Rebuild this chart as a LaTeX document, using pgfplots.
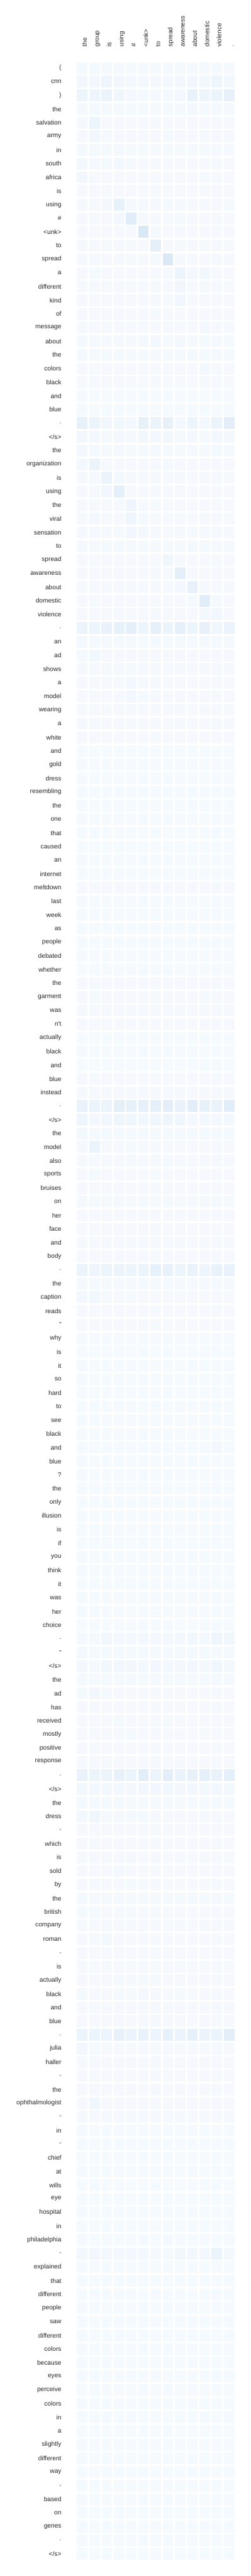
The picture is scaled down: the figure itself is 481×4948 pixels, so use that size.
\documentclass[border=0pt]{standalone}
\usepackage{pgfplots}
\pgfplotsset{compat=1.18}
\usepackage{pgfplotstable}
\usepackage{fontspec}
\setmainfont{Liberation Sans}
\pgfdeclareplotmark{cell}{\pgfpathrectangle{\pgfpoint{-10.095pt}{-11.465pt}}{\pgfpoint{20.19pt}{22.93pt}}\pgfusepathqfill}
\definecolor{lbl}{gray}{0.15}
\pgfplotstableread{
r c1 c2 c3 c4 c5 c6 c7 c8 c9 c10 c11 c12 c13
0 15 15 15 14 14 14 14 14 14 14 14 14 12
1 30 25 45 30 25 22 22 22 22 30 35 45 30
2 50 45 55 40 20 15 15 15 20 70 50 60 75
3 15 13 13 13 13 13 13 13 13 22 15 15 15
4 12 50 12 12 12 12 12 12 12 12 12 12 12
5 12 30 12 12 12 12 12 15 12 12 12 12 12
6 15 15 15 15 15 15 15 15 15 15 15 15 15
7 25 18 14 20 12 12 12 12 12 12 12 12 12
8 28 12 12 12 12 12 12 12 12 12 18 12 12
9 12 12 12 12 12 12 12 12 12 12 12 12 12
10 12 12 22 80 12 12 12 14 12 12 12 12 14
11 12 12 12 20 110 12 12 12 14 12 12 12 12
12 12 12 12 12 12 150 16 12 12 12 12 12 12
13 12 12 12 12 12 12 90 12 12 12 12 12 12
14 12 12 12 12 12 12 16 140 12 12 12 12 12
15 12 14 12 12 12 12 12 12 50 22 30 12 12
16 12 12 12 12 12 12 12 12 28 12 14 12 12
17 12 12 12 12 12 12 12 12 35 12 12 12 12
18 12 12 12 12 12 12 12 12 12 12 12 12 12
19 12 12 12 12 12 12 12 12 12 12 20 12 12
20 14 14 12 12 12 20 20 16 20 16 14 14 14
21 13 13 13 13 13 13 13 13 13 13 18 13 13
22 12 12 12 12 12 12 12 12 12 12 20 12 12
23 12 12 12 12 12 12 12 12 12 12 12 12 12
24 10 10 10 10 10 10 10 10 10 10 10 10 10
25 10 10 10 10 10 10 10 10 10 10 10 10 10
26 80 60 30 35 25 80 60 75 25 50 20 60 100
27 30 20 15 20 15 30 20 30 15 20 15 25 25
28 25 13 13 13 13 15 13 13 13 13 13 13 13
29 20 55 12 12 12 12 12 14 12 12 12 12 12
30 12 12 60 20 12 12 12 12 12 12 12 12 12
31 12 12 30 90 12 12 12 12 12 12 12 12 12
32 12 12 12 12 45 12 12 12 12 12 12 12 12
33 12 20 12 12 45 14 12 12 12 12 12 12 12
34 12 12 12 12 30 20 12 12 12 12 12 12 12
35 14 14 14 14 14 14 14 14 14 14 14 14 14
36 12 12 12 12 12 12 12 40 12 12 12 12 12
37 12 12 12 12 12 12 12 12 90 12 12 12 12
38 12 12 12 12 12 12 12 12 20 75 12 12 12
39 12 12 12 12 12 12 12 12 12 14 110 14 12
40 12 12 12 12 12 12 12 12 12 12 25 30 12
41 60 50 70 80 90 50 85 55 85 50 75 40 60
42 20 16 16 16 16 16 16 16 16 16 16 16 16
43 14 35 12 12 12 12 12 12 12 12 12 12 12
44 12 12 16 14 14 12 12 12 12 12 12 12 12
45 12 12 12 12 20 12 12 12 12 12 12 12 12
46 12 12 12 12 20 14 12 12 12 12 12 12 12
47 12 12 12 12 12 12 12 12 12 12 12 12 12
48 12 12 12 12 16 12 12 12 12 12 12 12 12
49 12 12 12 12 12 12 12 12 12 12 12 12 12
50 8 8 8 8 8 8 8 8 8 8 8 8 8
51 8 8 8 8 8 8 8 8 8 8 8 8 8
52 8 8 8 8 8 8 8 8 8 8 8 8 8
53 8 8 8 8 8 8 8 8 8 8 8 8 8
54 8 8 8 8 8 8 8 8 8 8 8 8 8
55 8 8 8 8 8 8 8 8 8 8 8 8 8
56 8 8 8 8 8 8 8 8 8 8 8 8 8
57 8 8 8 8 8 8 8 8 8 8 8 8 8
58 8 8 8 8 8 8 8 8 8 8 8 8 8
59 8 8 8 8 8 8 8 8 8 8 8 8 8
60 12 12 12 12 12 12 12 12 12 12 12 12 12
61 8 8 8 8 8 8 8 8 8 8 8 8 8
62 8 8 8 8 8 8 8 8 8 8 8 8 8
63 8 8 8 8 8 8 8 8 8 8 8 8 8
64 8 8 8 8 8 8 8 8 8 8 8 8 8
65 8 8 8 8 8 8 8 8 8 8 8 8 8
66 8 8 8 8 8 8 8 8 8 8 8 8 8
67 12 12 12 12 12 12 12 12 12 12 12 12 12
68 12 14 12 12 12 12 12 12 12 12 14 12 12
69 12 12 12 12 12 12 12 12 12 12 12 12 12
70 12 12 12 12 12 12 12 12 12 12 12 12 12
71 10 10 10 10 10 10 10 10 10 10 10 10 10
72 10 10 10 10 10 10 10 10 10 10 10 10 10
73 10 10 10 10 10 10 10 10 10 10 10 14 10
74 12 12 12 12 12 12 12 12 12 12 12 12 12
75 12 12 12 12 12 12 12 12 12 12 12 12 12
76 70 60 60 90 80 85 90 100 70 110 80 65 110
77 45 25 30 45 40 35 40 45 40 25 20 25 25
78 20 14 14 14 14 14 14 14 14 14 14 14 14
79 12 60 12 12 14 12 12 12 12 12 12 12 12
80 12 12 12 12 12 12 12 14 12 12 12 12 12
81 12 14 12 12 12 12 12 12 12 12 12 12 12
82 12 12 12 12 12 12 12 12 12 12 12 12 12
83 14 14 14 14 14 14 14 14 14 14 14 14 14
84 12 12 12 12 12 12 12 12 12 12 12 12 12
85 12 12 12 12 12 12 12 12 12 12 12 12 12
86 12 12 12 12 12 12 12 12 12 12 12 12 12
87 12 12 12 12 12 12 12 12 12 12 12 12 12
88 55 45 50 55 50 60 80 70 50 65 45 70 70
89 15 15 15 15 15 15 15 15 15 15 15 15 15
90 25 35 14 12 14 12 12 12 12 12 12 12 12
91 12 12 12 12 12 12 12 12 12 12 12 12 12
92 12 12 12 12 12 12 12 12 12 12 12 12 12
93 10 10 10 10 10 10 10 10 10 10 10 10 10
94 10 10 10 10 10 10 10 10 10 10 10 10 10
95 10 10 10 10 10 10 10 10 10 10 10 10 10
96 10 10 10 10 10 10 10 10 10 10 10 10 10
97 10 10 10 10 10 10 10 10 10 10 10 10 10
98 10 10 10 10 10 10 10 10 10 10 10 10 10
99 10 10 10 10 10 10 10 10 10 10 10 10 10
100 10 10 10 10 10 10 10 10 10 10 10 10 10
101 10 10 10 10 10 10 10 10 10 10 10 20 10
102 10 10 10 10 10 10 10 10 10 10 10 10 10
103 10 10 10 10 10 10 10 10 10 10 10 10 10
104 10 10 10 10 10 10 10 10 10 10 10 10 10
105 10 10 10 10 10 10 10 10 10 10 10 10 10
106 10 10 10 10 10 10 10 10 10 10 10 10 10
107 10 10 10 10 10 10 10 10 10 10 10 10 10
108 10 10 10 10 10 10 10 10 10 10 10 10 10
109 10 10 10 10 10 10 10 10 10 10 10 10 10
110 10 10 10 10 10 10 10 10 10 10 10 10 10
111 10 10 10 10 10 10 10 10 10 10 10 10 10
112 10 10 10 10 10 10 10 10 10 10 10 10 10
113 10 10 10 10 10 10 10 10 10 10 10 10 10
114 10 10 10 10 10 10 10 10 10 10 10 10 10
115 15 15 30 25 25 20 25 20 20 35 20 45 40
116 15 15 15 15 15 15 15 15 15 15 15 15 15
117 20 15 35 30 30 20 30 20 20 30 20 40 20
118 15 15 15 15 15 15 15 15 15 15 15 15 15
119 14 30 14 12 12 12 12 12 12 12 12 12 12
120 12 12 12 12 12 12 12 12 12 12 12 12 12
121 12 12 12 14 12 12 12 16 12 12 12 12 12
122 12 12 12 12 14 12 12 12 12 12 12 12 12
123 12 12 12 12 12 12 12 12 12 12 12 12 12
124 12 12 12 12 12 12 12 12 12 12 12 12 12
125 70 60 60 80 60 110 60 100 65 80 85 70 90
126 30 20 20 20 25 30 30 35 20 30 20 20 20
127 15 15 15 15 15 15 15 15 15 15 15 15 15
128 20 40 12 14 14 16 12 12 12 12 12 12 12
129 12 12 12 12 12 12 12 12 12 12 12 12 12
130 12 12 12 12 12 12 12 12 12 12 12 12 12
131 12 12 12 12 12 12 12 12 12 12 12 12 12
132 12 12 12 25 12 12 12 12 12 12 12 12 12
133 12 12 12 12 16 12 12 12 12 12 12 12 12
134 13 13 13 13 13 13 13 13 13 13 13 13 13
135 14 14 12 12 16 12 12 12 12 12 12 12 12
136 12 12 12 12 12 12 12 12 12 12 12 12 12
137 12 12 25 12 12 12 12 12 12 12 12 12 12
138 12 12 12 12 12 12 12 12 12 12 12 12 12
139 12 12 12 12 12 12 12 12 12 12 12 12 12
140 12 12 12 14 14 14 16 12 12 12 12 12 12
141 14 12 12 14 14 25 12 12 14 12 12 12 12
142 12 12 12 12 12 12 12 12 12 12 12 12 12
143 12 12 12 12 12 12 12 12 12 12 12 12 12
144 60 55 50 75 55 70 50 80 55 85 60 55 100
145 30 14 12 12 12 12 12 12 12 12 12 12 12
146 12 12 12 12 12 12 12 12 12 12 12 12 12
147 12 12 12 12 12 12 12 12 12 12 12 12 12
148 12 12 12 12 12 12 12 12 12 12 12 12 12
149 12 40 12 12 12 12 12 12 12 12 12 12 12
150 12 12 12 12 12 12 12 12 12 12 12 12 12
151 10 10 10 10 10 10 10 10 10 10 10 10 10
152 10 10 10 10 10 10 10 10 10 10 10 10 10
153 10 10 10 10 10 10 10 10 10 10 10 10 10
154 10 10 10 10 10 10 10 10 10 10 10 10 10
155 10 10 10 10 10 10 10 10 10 10 10 10 10
156 10 10 10 10 10 10 10 10 10 10 10 10 10
157 10 10 10 10 10 10 10 10 10 10 10 10 10
158 10 10 10 10 10 10 10 10 10 10 10 10 10
159 10 10 10 10 10 10 10 10 10 10 10 10 10
160 20 30 20 25 20 25 15 15 35 30 20 60 20
161 10 10 10 10 10 10 10 10 10 10 10 10 10
162 10 10 10 10 10 10 10 10 10 10 10 10 10
163 10 10 10 10 10 10 10 10 10 10 10 10 10
164 10 10 10 10 10 10 10 10 10 10 10 10 10
165 10 10 10 10 10 10 10 10 10 10 10 10 10
166 10 10 10 10 10 10 10 10 10 10 10 10 10
167 10 10 10 10 10 10 10 10 10 10 10 10 10
168 10 10 10 10 10 10 10 10 10 10 10 10 10
169 10 10 10 10 10 10 10 10 10 10 10 10 10
170 10 10 10 10 10 10 10 10 10 10 10 10 10
171 10 10 10 10 10 10 10 10 10 10 10 10 10
172 10 10 10 10 10 10 10 10 10 10 10 10 10
173 10 10 10 10 10 10 10 10 10 10 10 10 10
174 10 10 10 10 10 10 10 10 10 10 10 10 10
175 10 10 10 10 10 10 10 10 10 10 10 10 10
176 10 10 10 10 10 10 10 10 10 10 10 10 10
177 10 10 10 10 10 10 10 10 10 10 10 10 10
178 10 10 10 10 10 10 10 10 10 10 10 10 10
179 10 10 10 10 10 10 10 10 10 10 10 10 10
180 10 10 10 10 10 10 10 10 10 10 10 10 10
181 10 10 10 10 10 10 10 10 10 10 10 10 10
182 10 10 10 10 10 10 10 10 10 10 10 10 10
}\data
\pgfplotsset{cellplot/.style={scatter, only marks, mark=cell, scatter/use mapped color={draw=none, fill=mapped color}, point meta=explicit}}
\begin{document}
\begin{tikzpicture}
\path[use as bounding box] (0,0) rectangle (481pt,4948pt);
\begin{axis}[
  at={(146.3pt,29.35pt)}, anchor=south west,
  scale only axis, width=305.4pt, height=4801pt,
  xmin=-0.5, xmax=12.5, ymin=-0.5, ymax=182.5, y dir=reverse,
  axis line style={draw=none}, major tick length=0pt,
  clip=false,
  point meta min=0, point meta max=1000,
  colormap={blues}{rgb255(0)=(247,251,255) rgb255(1)=(222,235,247) rgb255(2)=(198,219,239) rgb255(3)=(158,202,225) rgb255(4)=(107,174,214) rgb255(5)=(66,146,198) rgb255(6)=(33,113,181) rgb255(7)=(8,81,156) rgb255(8)=(8,48,107)},
  tick label style={font=\fontsize{12.3}{14}\selectfont, text=lbl},
  xtick={0.37,1.37,...,12.37},
  xticklabels={the,group,is,using,\#,<unk>,to,spread,awareness,about,domestic,violence,.},
  xticklabel pos=upper,
  x tick label style={rotate=90, anchor=base west, inner sep=0pt},
  xticklabel shift=27.5pt,
  ytick={0,...,182},
  yticklabels={{(},cnn,{)},the,salvation,army,in,south,africa,is,using,\#,<unk>,to,spread,a,different,kind,of,message,about,the,colors,black,and,blue,.,</s>,
  the,organization,is,using,the,viral,sensation,to,spread,awareness,about,domestic,violence,.,
  an,ad,shows,a,model,wearing,a,white,and,gold,dress,resembling,the,one,that,caused,an,internet,meltdown,last,week,as,people,debated,whether,the,garment,was,{n\textquotesingle t},actually,black,and,blue,instead,.,</s>,
  the,model,also,sports,bruises,on,her,face,and,body,.,
  the,caption,reads,{"},why,is,it,so,hard,to,see,black,and,blue,?,the,only,illusion,is,if,you,think,it,was,her,choice,.,{"},</s>,
  the,ad,has,received,mostly,positive,response,.,</s>,
  the,dress,{,},which,is,sold,by,the,british,company,roman,{,},is,actually,black,and,blue,.,
  julia,haller,{,},the,ophthalmologist,-,in,-,chief,at,wills,eye,hospital,in,philadelphia,{,},explained,that,different,people,saw,different,colors,because,eyes,perceive,colors,in,a,slightly,different,way,{,},based,on,genes,.,</s>},
  y tick label style={anchor=east, inner sep=0pt},
  yticklabel shift=28.3pt,
]
\addplot[cellplot] table[x expr=0, y=r, meta=c1]{\data};
\addplot[cellplot] table[x expr=1, y=r, meta=c2]{\data};
\addplot[cellplot] table[x expr=2, y=r, meta=c3]{\data};
\addplot[cellplot] table[x expr=3, y=r, meta=c4]{\data};
\addplot[cellplot] table[x expr=4, y=r, meta=c5]{\data};
\addplot[cellplot] table[x expr=5, y=r, meta=c6]{\data};
\addplot[cellplot] table[x expr=6, y=r, meta=c7]{\data};
\addplot[cellplot] table[x expr=7, y=r, meta=c8]{\data};
\addplot[cellplot] table[x expr=8, y=r, meta=c9]{\data};
\addplot[cellplot] table[x expr=9, y=r, meta=c10]{\data};
\addplot[cellplot] table[x expr=10, y=r, meta=c11]{\data};
\addplot[cellplot] table[x expr=11, y=r, meta=c12]{\data};
\addplot[cellplot] table[x expr=12, y=r, meta=c13]{\data};
\end{axis}
\end{tikzpicture}
\end{document}
